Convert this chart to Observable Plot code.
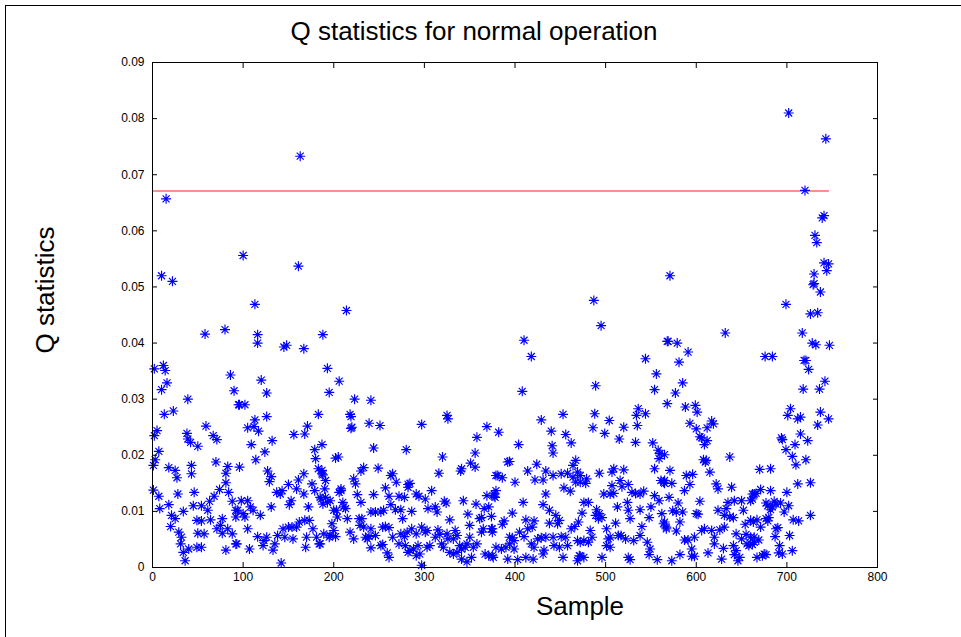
<!DOCTYPE html>
<html><head><meta charset="utf-8">
<script src="https://cdn.jsdelivr.net/npm/d3@7"></script>
<script src="https://cdn.jsdelivr.net/npm/@observablehq/plot@0.6"></script>
<style>
html,body{margin:0;padding:0;background:#fff;}
#wrap{position:relative;width:961px;height:637px;overflow:hidden;font-family:"Liberation Sans",Arial,sans-serif;color:#000;}
#border{position:absolute;left:5px;top:5px;width:1000px;height:700px;border:1px solid #000;box-sizing:border-box;}
.lbl{position:absolute;font-size:26px;line-height:26px;white-space:nowrap;}
#title{left:474px;top:18px;transform:translateX(-50%);}
#xlab{left:580px;top:593px;transform:translateX(-50%);}
#ylab{left:45px;top:290px;transform:translate(-50%,-50%) rotate(-90deg);}
#chart{position:absolute;left:0;top:0;}
</style></head>
<body>
<div id="wrap">
  <div id="chart"></div>
  <div id="border"></div>
  <div class="lbl" id="title"></div>
  <div class="lbl" id="xlab"></div>
  <div class="lbl" id="ylab"></div>
</div>
<script>
const titleText = "Q statistics for normal operation";
const xLabel = "Sample";
const yLabel = "Q statistics";
const xTicks = [0, 100, 200, 300, 400, 500, 600, 700, 800];
const yTicks = [0, 0.01, 0.02, 0.03, 0.04, 0.05, 0.06, 0.07, 0.08, 0.09];
const controlLimit = 0.0671;
const limitStart = 0;
const limitEnd = 747;

// [sample, Q statistic]
const seg1 = [[1,0.0182],[2,0.0235],[2,0.0354],[3,0.0192],[5,0.0244],[7,0.0207],[1,0.0138],[7,0.0127],[8,0.0105],[10,0.0317],[10,0.052],[12,0.036],[13,0.0273],[14,0.0351],[15,0.0657],[16,0.0329],[18,0.0178],[18,0.0112],[20,0.0073],[21,0.0093],[22,0.051],[23,0.0279],[25,0.0173],[25,0.0087],[27,0.016],[28,0.0131],[29,0.0063],[31,0.0042],[32,0.0054],[34,0.01],[34,0.0027],[36,0.0012],[39,0.030],[38,0.0239],[39,0.0229],[40,0.0033],[42,0.0223],[43,0.0182],[43,0.0167],[45,0.011],[46,0.0134],[49,0.0084],[49,0.0036],[50,0.0216],[50,0.0061],[54,0.011],[54,0.0083],[54,0.0036],[57,0.006],[58,0.0416],[59,0.0252],[61,0.0102],[63,0.0118],[64,0.0085],[67,0.0235],[68,0.0127],[70,0.0188],[71,0.0228],[71,0.0069],[74,0.0139],[75,0.0075],[77,0.0087],[77,0.0061],[80,0.0424],[81,0.0168],[81,0.0151],[81,0.0031],[83,0.018],[83,0.0069],[84,0.0134],[86,0.0343],[88,0.0118],[88,0.006],[90,0.0315],[92,0.0102],[92,0.0042],[95,0.029]];
const seg2 = [[93,0.0042],[92,0.009],[94,0.0102],[96,0.0179],[96,0.029],[98,0.0119],[100,0.0556],[100,0.0096],[102,0.029],[102,0.009],[105,0.0249],[105,0.0119],[105,0.0069],[107,0.0033],[108,0.0108],[109,0.0219],[111,0.0102],[112,0.0251],[113,0.0263],[113,0.0469],[114,0.0192],[116,0.0415],[116,0.040],[116,0.0055],[117,0.0243],[119,0.0093],[120,0.0334],[122,0.0039],[123,0.0048],[124,0.0206],[126,0.0311],[126,0.0269],[126,0.0054],[127,0.0172],[129,0.0153],[131,0.0162],[131,0.0108],[132,0.0226],[133,0.0031],[135,0.0042],[137,0.0134],[138,0.0057],[141,0.0131],[142,0.0008],[143,0.0137],[144,0.0069],[145,0.0393],[146,0.0054],[148,0.0396],[150,0.0148],[150,0.0072],[151,0.0112],[153,0.0119],[154,0.0072],[155,0.0051],[156,0.0237],[159,0.014],[159,0.0072],[161,0.0156],[161,0.0537],[162,0.0081],[163,0.0733],[167,0.039],[167,0.0167],[167,0.0131],[168,0.0238],[168,0.0084],[169,0.0036],[170,0.0054],[171,0.0252],[172,0.0108],[173,0.0084],[176,0.0149],[177,0.0069],[179,0.021],[179,0.0137],[180,0.0194],[181,0.0054],[183,0.0273],[183,0.0176],[184,0.0042],[185,0.0125],[187,0.0219],[187,0.0167],[188,0.0113],[188,0.0415]];
const seg3 = [[187,0.0173],[188,0.0165],[189,0.006],[185,0.0042],[191,0.0155],[190,0.014],[191,0.0125],[186,0.0122],[193,0.0355],[193,0.0116],[195,0.0312],[195,0.0054],[196,0.0119],[196,0.0057],[198,0.0078],[200,0.0102],[200,0.0066],[202,0.0195],[202,0.0055],[203,0.0102],[204,0.009],[205,0.0197],[206,0.0332],[206,0.0134],[208,0.014],[208,0.0137],[210,0.0116],[211,0.0108],[213,0.0105],[214,0.0458],[215,0.0087],[218,0.0273],[218,0.0063],[219,0.0269],[219,0.0248],[220,0.025],[222,0.0158],[222,0.0051],[223,0.030],[224,0.0149],[226,0.013],[228,0.0087],[229,0.0075],[230,0.0172],[230,0.0116],[231,0.0087],[233,0.0178],[233,0.0072],[235,0.0054],[237,0.0051],[239,0.0257],[239,0.0055],[241,0.0298],[241,0.0099],[241,0.0069],[241,0.0035],[244,0.0213],[244,0.013],[246,0.0099],[246,0.0057],[249,0.0177],[251,0.0253],[252,0.0099],[252,0.0039],[254,0.0072],[254,0.0041],[255,0.0102],[257,0.0142],[257,0.0073],[259,0.0026],[261,0.0127],[261,0.0071],[261,0.0018],[263,0.0164],[263,0.0112],[265,0.0167],[265,0.0054],[268,0.0103],[269,0.0152],[272,0.0127],[272,0.0042],[274,0.0103],[274,0.006],[276,0.0087],[278,0.0125],[278,0.0055],[279,0.0039],[280,0.021],[281,0.0063],[282,0.0148],[282,0.0027]];
const seg4 = [[282,0.0143],[284,0.015],[284,0.003],[286,0.01],[286,0.0069],[288,0.0033],[291,0.0131],[291,0.006],[291,0.0021],[293,0.0039],[294,0.0127],[295,0.0024],[297,0.0255],[297,0.0072],[297,0.0004],[301,0.0122],[301,0.0063],[303,0.0066],[303,0.0036],[304,0.0105],[306,0.0039],[308,0.0137],[312,0.0108],[312,0.0054],[314,0.0099],[315,0.0067],[316,0.0168],[317,0.0059],[319,0.0042],[320,0.0197],[321,0.0036],[322,0.0118],[324,0.0115],[325,0.0271],[325,0.006],[326,0.0265],[326,0.0051],[328,0.0085],[328,0.0027],[332,0.0051],[332,0.0024],[334,0.0066],[336,0.0057],[336,0.0027],[339,0.0039],[340,0.0172],[341,0.0176],[341,0.0033],[341,0.0015],[343,0.0119],[345,0.0036],[347,0.0042],[347,0.001],[348,0.0095],[350,0.0075],[350,0.0054],[351,0.0186],[352,0.0018],[354,0.0036],[356,0.0204],[356,0.0179],[357,0.0113],[358,0.0232],[358,0.0042],[361,0.0087],[363,0.0089],[363,0.0063],[366,0.0105],[365,0.0069],[367,0.0024],[369,0.0251],[369,0.0128],[371,0.0108],[371,0.0021],[374,0.0091],[374,0.0069],[375,0.0063],[376,0.0018],[377,0.0131],[378,0.0125],[379,0.0164]];
const seg5 = [[375,0.0069],[375,0.0021],[377,0.0127],[379,0.0137],[379,0.0036],[381,0.0164],[382,0.0241],[385,0.0033],[386,0.016],[386,0.0077],[388,0.0083],[390,0.0036],[392,0.0188],[392,0.0015],[394,0.0189],[394,0.0054],[394,0.0042],[397,0.0097],[397,0.0053],[399,0.0048],[399,0.0033],[400,0.0152],[403,0.0014],[404,0.0219],[405,0.0063],[408,0.0314],[409,0.0116],[410,0.0405],[410,0.0055],[412,0.0085],[412,0.0018],[414,0.0172],[414,0.0069],[418,0.0376],[418,0.0042],[419,0.0072],[420,0.0015],[421,0.0083],[421,0.0036],[422,0.0156],[424,0.0184],[425,0.0051],[429,0.0263],[429,0.0053],[431,0.0156],[431,0.0112],[431,0.0024],[432,0.0031],[434,0.0172],[434,0.0131],[434,0.0054],[438,0.0102],[438,0.0079],[440,0.0243],[441,0.0217],[442,0.0164],[442,0.0204],[442,0.0054],[443,0.0039],[445,0.0093],[447,0.0078],[449,0.0084],[449,0.0036],[451,0.0167],[451,0.0055],[453,0.0273],[453,0.0018],[454,0.0142],[456,0.0237],[456,0.0054],[458,0.0168],[458,0.0039],[461,0.0136],[462,0.0222],[462,0.0069],[464,0.0182],[464,0.0161],[466,0.0073],[467,0.0191],[467,0.0152],[469,0.017],[469,0.0048],[469,0.0012],[471,0.0021],[472,0.0164]];
const seg6 = [[470,0.0081],[472,0.0152],[472,0.0045],[472,0.002],[474,0.0097],[476,0.0116],[476,0.0048],[476,0.0018],[478,0.015],[479,0.0158],[481,0.0116],[481,0.0045],[483,0.0066],[485,0.0054],[486,0.0249],[487,0.0476],[488,0.0274],[489,0.0093],[489,0.0324],[490,0.0103],[492,0.0087],[493,0.0168],[493,0.0096],[495,0.0431],[496,0.0089],[496,0.0018],[498,0.0131],[499,0.0239],[501,0.0069],[501,0.0039],[503,0.0051],[504,0.0262],[505,0.0131],[505,0.0054],[505,0.0036],[507,0.017],[507,0.0146],[509,0.0176],[509,0.0132],[511,0.0079],[513,0.0108],[514,0.0057],[515,0.0229],[516,0.0155],[517,0.0057],[518,0.0144],[520,0.025],[520,0.0174],[522,0.0051],[524,0.0116],[525,0.0148],[525,0.0102],[525,0.0018],[527,0.0087],[527,0.0014],[529,0.0134],[531,0.0048],[533,0.0223],[533,0.0132],[534,0.0271],[535,0.0253],[536,0.0283],[538,0.0131],[538,0.0103],[538,0.0057],[540,0.0073],[542,0.0136],[544,0.0274],[544,0.0372],[546,0.0045],[548,0.0089],[548,0.0023],[549,0.0033],[550,0.0108],[552,0.0222],[554,0.0317],[554,0.0176],[554,0.0128],[556,0.0345],[557,0.0014],[558,0.0209],[559,0.0119],[559,0.0194],[560,0.0203],[561,0.0155],[562,0.0096],[564,0.0152],[564,0.0078],[565,0.015],[567,0.0069],[568,0.0403]];
const seg7 = [[565,0.0201],[565,0.0155],[565,0.0081],[567,0.0072],[568,0.0292],[569,0.0403],[570,0.0125],[571,0.052],[571,0.0173],[573,0.015],[573,0.0012],[574,0.0101],[577,0.0311],[578,0.0099],[578,0.0065],[579,0.04],[580,0.0115],[581,0.0366],[582,0.0081],[582,0.0023],[585,0.0329],[585,0.0099],[587,0.0137],[587,0.0049],[588,0.0286],[589,0.0164],[591,0.0384],[591,0.0049],[593,0.0257],[593,0.0148],[595,0.0033],[595,0.002],[596,0.0166],[598,0.0054],[598,0.002],[599,0.0289],[600,0.0247],[600,0.0096],[601,0.0277],[602,0.0095],[604,0.0233],[604,0.0118],[606,0.0231],[606,0.0066],[608,0.0192],[609,0.0219],[609,0.0069],[610,0.0188],[611,0.0191],[612,0.0226],[612,0.0249],[613,0.0026],[615,0.017],[617,0.0261],[617,0.0066],[619,0.0256],[620,0.0054],[620,0.0042],[622,0.0149],[624,0.014],[624,0.0102],[626,0.0067],[628,0.0015],[630,0.0034],[631,0.0093],[631,0.0072],[632,0.0418],[633,0.0105],[635,0.0116],[637,0.0197],[637,0.009],[639,0.0143],[641,0.0089],[641,0.0039],[642,0.0119],[642,0.0023],[644,0.006],[644,0.003],[646,0.0012],[648,0.0018],[650,0.0119],[650,0.0051],[652,0.0102],[654,0.0077],[655,0.0059],[656,0.0042],[658,0.0039],[660,0.0054],[662,0.0122],[663,0.0081],[664,0.0131]];
const seg8 = [[660,0.0119],[660,0.0084],[662,0.0131],[662,0.0041],[664,0.0054],[664,0.0045],[666,0.0132],[667,0.0085],[667,0.0018],[669,0.0049],[670,0.0175],[671,0.0139],[671,0.0072],[673,0.0021],[675,0.0024],[676,0.0376],[677,0.0115],[677,0.0087],[677,0.0023],[679,0.011],[679,0.0083],[680,0.0089],[682,0.0137],[682,0.0176],[682,0.0103],[684,0.0376],[684,0.0108],[686,0.0118],[687,0.0055],[688,0.0113],[688,0.0069],[690,0.0071],[691,0.0026],[692,0.0039],[693,0.0115],[694,0.0231],[695,0.0228],[695,0.0024],[697,0.0099],[699,0.0469],[699,0.021],[700,0.0134],[701,0.0271],[702,0.081],[702,0.011],[703,0.0057],[704,0.0283],[706,0.0198],[706,0.003],[707,0.0085],[709,0.0219],[710,0.0183],[712,0.0265],[712,0.0149],[713,0.0083],[715,0.0268],[715,0.0238],[717,0.0418],[718,0.0318],[719,0.0369],[720,0.0672],[721,0.0369],[721,0.0192],[723,0.0226],[724,0.0353],[726,0.0452],[726,0.0151],[726,0.0093],[728,0.04],[729,0.0504],[730,0.0523],[730,0.0506],[731,0.0592],[732,0.0397],[733,0.0579],[734,0.0454],[734,0.0254],[736,0.0318],[737,0.0491],[737,0.0277],[739,0.0623],[741,0.0627],[741,0.0543],[742,0.0332],[743,0.0764],[744,0.0529],[746,0.0541],[746,0.0265],[747,0.0396]];

const points = [...seg1, ...seg2, ...seg3, ...seg4, ...seg5, ...seg6, ...seg7, ...seg8]
  .map(([sample, q]) => ({sample, q}));

// MATLAB-style '*' marker: a plus and a cross
const asterisk = {
  draw(ctx, size) {
    const r = Math.sqrt(size / Math.PI);
    const d = r * 0.7;
    ctx.moveTo(-r, 0); ctx.lineTo(r, 0);
    ctx.moveTo(0, -r); ctx.lineTo(0, r);
    ctx.moveTo(-d, -d); ctx.lineTo(d, d);
    ctx.moveTo(-d, d); ctx.lineTo(d, -d);
  }
};

const yFmt = d => d === 0 ? "0" : d3.format(".2f")(d);

const chart = Plot.plot({
  width: 961,
  height: 637,
  marginLeft: 152,
  marginRight: 84,
  marginTop: 62,
  marginBottom: 70,
  style: {background: "#fff", fontFamily: "'Liberation Sans', Arial, sans-serif", fontSize: "12px", color: "#000"},
  x: {domain: [0, 800]},
  y: {domain: [0, 0.09]},
  marks: [
    Plot.ruleY([{y: controlLimit, x1: limitStart, x2: limitEnd}], {y: "y", x1: "x1", x2: "x2", stroke: "#ff2020", strokeWidth: 1.2}),
    Plot.dot(points, {x: "sample", y: "q", symbol: asterisk, r: 5, stroke: "#0000ff", strokeWidth: 1.15, fill: "none"}),
    Plot.frame({stroke: "#000", strokeWidth: 1}),
    Plot.axisX({ticks: xTicks, tickSize: -5, tickPadding: 10, label: null, tickFormat: d => String(d)}),
    Plot.axisX({anchor: "top", ticks: xTicks, tickSize: -5, fill: "none", label: null}),
    Plot.axisY({ticks: yTicks, tickSize: -5, tickPadding: 13, tickFormat: yFmt, label: null}),
    Plot.axisY({anchor: "right", ticks: yTicks, tickSize: -5, fill: "none", label: null})
  ]
});
document.getElementById("chart").appendChild(chart);
document.getElementById("title").textContent = titleText;
document.getElementById("xlab").textContent = xLabel;
document.getElementById("ylab").textContent = yLabel;
</script>
</body></html>
